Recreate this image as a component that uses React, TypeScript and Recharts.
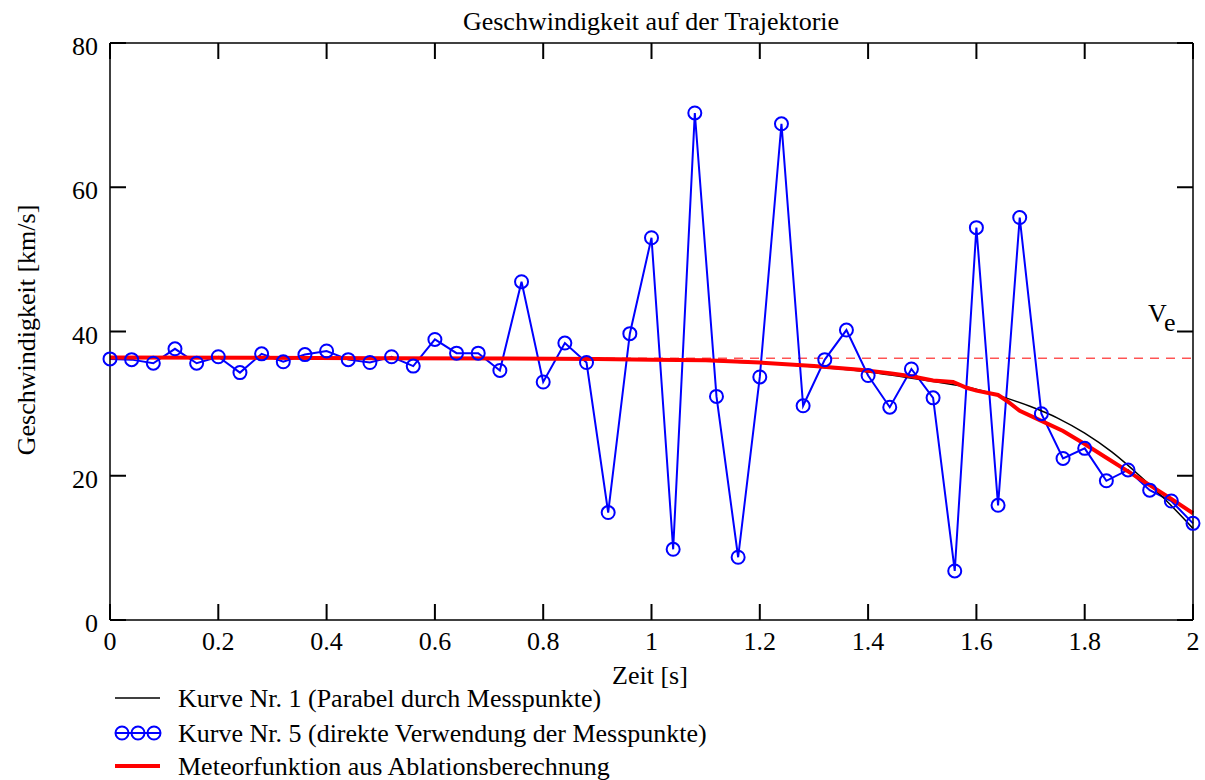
import { ComposedChart, Line, XAxis, YAxis, ReferenceLine } from 'recharts';

// Messzeitpunkte [s]
const messZeit = [
  0, 0.04, 0.08, 0.12, 0.16, 0.2, 0.24, 0.28, 0.32, 0.36,
  0.4, 0.44, 0.48, 0.52, 0.56, 0.6, 0.64, 0.68, 0.72, 0.76,
  0.8, 0.84, 0.88, 0.92, 0.96, 1.0, 1.04, 1.08, 1.12, 1.16,
  1.2, 1.24, 1.28, 1.32, 1.36, 1.4, 1.44, 1.48, 1.52, 1.56,
  1.6, 1.64, 1.68, 1.72, 1.76, 1.8, 1.84, 1.88, 1.92, 1.96, 2.0,
];

// Kurve Nr. 5: direkte Verwendung der Messpunkte [km/s]
const messV = [
  36.2, 36.1, 35.6, 37.6, 35.6, 36.5, 34.3, 36.9, 35.8, 36.8,
  37.3, 36.1, 35.7, 36.5, 35.2, 38.9, 37.0, 37.0, 34.6, 46.9,
  33.0, 38.4, 35.7, 14.9, 39.7, 53.0, 9.8, 70.3, 31.0, 8.7,
  33.7, 68.8, 29.7, 36.1, 40.2, 33.9, 29.5, 34.8, 30.8, 6.8,
  54.4, 15.9, 55.8, 28.6, 22.4, 23.8, 19.3, 20.8, 18.0, 16.5, 13.4,
];

// Kurve Nr. 1: Parabel durch Messpunkte
const parabelZeit = [0, 0.2, 0.4, 0.6, 0.8, 1.0, 1.1, 1.2, 1.3, 1.4, 1.5, 1.6, 1.65, 1.7, 1.75, 1.8, 1.85, 1.9, 1.95, 2.0];
const parabelV = [36.3, 36.3, 36.3, 36.3, 36.2, 36.1, 35.9, 35.6, 35.1, 34.4, 33.3, 32.0, 30.9, 29.6, 28.0, 25.9, 23.3, 20.1, 16.6, 12.7];

// Meteorfunktion aus Ablationsberechnung
const meteorZeit = [0, 0.5, 0.9, 1.0, 1.1, 1.2, 1.3, 1.385, 1.44, 1.48, 1.52, 1.557, 1.582, 1.6, 1.64, 1.656, 1.68, 1.72, 1.76, 1.8, 1.84, 1.88, 1.92, 1.96, 2.0];
const meteorV = [36.4, 36.3, 36.2, 36.1, 36.0, 35.7, 35.2, 34.7, 34.2, 33.8, 33.2, 33.0, 32.2, 31.8, 31.2, 30.4, 29.0, 27.6, 26.2, 24.4, 22.5, 20.6, 18.7, 16.8, 14.8];

// Eintrittsgeschwindigkeit v_e
const vE = 36.3;

const xTicks = [0, 0.2, 0.4, 0.6, 0.8, 1, 1.2, 1.4, 1.6, 1.8, 2];
const yTicks = [0, 20, 40, 60, 80];

const messData = messZeit.map((t, i) => ({ t, v: messV[i] }));
const parabelData = parabelZeit.map((t, i) => ({ t, v: parabelV[i] }));
const meteorData = meteorZeit.map((t, i) => ({ t, v: meteorV[i] }));

const W = 1205;
const H = 780;
const LEFT = 110;
const RIGHT = 1193;
const TOP = 43;
const BOTTOM = 620;
const FS = 26;
const TICK = 16;
const FONT = '"Liberation Serif", "Times New Roman", serif';
const AXIS = { stroke: '#000', strokeWidth: 1.5 };

// plot-frame coordinates for the inward tick marks
const sx = (t: number) => LEFT + (t / 2) * (RIGHT - LEFT);
const sy = (v: number) => BOTTOM - (v / 80) * (BOTTOM - TOP);

const fmt = (v: number) => String(Math.round(v * 10) / 10);

const BottomLabel = (p: any) => (
  <text x={p.x} y={BOTTOM + 30} textAnchor="middle" fontFamily={FONT} fontSize={FS} fill="#000">
    {fmt(p.payload.value)}
  </text>
);

const LeftLabel = (p: any) => (
  <text x={98} y={p.y + 12} textAnchor="end" fontFamily={FONT} fontSize={FS} fill="#000">
    {p.payload.value}
  </text>
);

const NoLabel = () => <g />;

export default function App() {
  return (
    <div style={{ position: 'absolute', left: 0, top: 0, width: W, height: H, background: '#fff' }}>
      <ComposedChart width={W} height={H} margin={{ top: TOP - 1, right: W - RIGHT - 1, bottom: 0, left: 0 }}>
        <XAxis
          xAxisId="b"
          dataKey="t"
          type="number"
          domain={[0, 2]}
          ticks={xTicks}
          height={H - BOTTOM}
          axisLine={AXIS}
          tickLine={false}
          tick={BottomLabel}
        />
        <XAxis
          xAxisId="t"
          orientation="top"
          type="number"
          domain={[0, 2]}
          ticks={xTicks}
          height={1}
          axisLine={AXIS}
          tickLine={false}
          tick={NoLabel}
        />
        <YAxis
          yAxisId="l"
          type="number"
          domain={[0, 80]}
          ticks={yTicks}
          width={LEFT}
          axisLine={AXIS}
          tickLine={false}
          tick={LeftLabel}
        />
        <YAxis
          yAxisId="r"
          orientation="right"
          type="number"
          domain={[0, 80]}
          ticks={yTicks}
          width={1}
          axisLine={AXIS}
          tickLine={false}
          tick={NoLabel}
        />
        <ReferenceLine
          xAxisId="b"
          yAxisId="l"
          y={vE}
          stroke="#ff0000"
          strokeWidth={1}
          strokeDasharray="9 7"
        />
        <Line
          xAxisId="b"
          yAxisId="l"
          data={messData}
          dataKey="v"
          type="linear"
          stroke="#0000ff"
          strokeWidth={2}
          dot={{ r: 6.5, stroke: '#0000ff', strokeWidth: 2, fill: 'none' }}
          isAnimationActive={false}
        />
        <Line
          xAxisId="b"
          yAxisId="l"
          data={parabelData}
          dataKey="v"
          type="monotone"
          stroke="#000"
          strokeWidth={1.5}
          dot={false}
          isAnimationActive={false}
        />
        <Line
          xAxisId="b"
          yAxisId="l"
          data={meteorData}
          dataKey="v"
          type="linear"
          stroke="#ff0000"
          strokeWidth={4}
          dot={false}
          isAnimationActive={false}
        />
      </ComposedChart>

      <svg
        width={W}
        height={H}
        style={{ position: 'absolute', left: 0, top: 0, pointerEvents: 'none' }}
        fontFamily={FONT}
        fill="#000"
      >
        {/* inward ticks on all four sides of the frame */}
        <g stroke="#000" strokeWidth={2}>
          {xTicks.map((t) => (
            <g key={`x${t}`}>
              <line x1={sx(t)} x2={sx(t)} y1={BOTTOM} y2={BOTTOM - TICK} />
              <line x1={sx(t)} x2={sx(t)} y1={TOP} y2={TOP + TICK} />
            </g>
          ))}
          {yTicks.map((v) => (
            <g key={`y${v}`}>
              <line x1={LEFT} x2={LEFT + TICK} y1={sy(v)} y2={sy(v)} />
              <line x1={RIGHT} x2={RIGHT - TICK} y1={sy(v)} y2={sy(v)} />
            </g>
          ))}
        </g>

        <text x={651} y={30} textAnchor="middle" fontSize={FS}>Geschwindigkeit auf der Trajektorie</text>
        <text x={650} y={684} textAnchor="middle" fontSize={FS}>Zeit [s]</text>
        <text x={35} y={330} textAnchor="middle" fontSize={FS} transform="rotate(-90 35 330)">
          Geschwindigkeit [km/s]
        </text>
        <text x={1148} y={322} fontSize={FS}>
          V<tspan fontSize={FS} dy={9}>e</tspan>
        </text>

        <line x1={115} x2={160} y1={698} y2={698} stroke="#000" strokeWidth={1.5} />
        <text x={178} y={707} fontSize={FS}>Kurve Nr. 1 (Parabel durch Messpunkte)</text>

        <line x1={115} x2={160} y1={733} y2={733} stroke="#0000ff" strokeWidth={2} />
        {[122, 138, 154].map((cx) => (
          <circle key={cx} cx={cx} cy={733} r={6.5} stroke="#0000ff" strokeWidth={2} fill="none" />
        ))}
        <text x={178} y={742} fontSize={FS}>Kurve Nr. 5 (direkte Verwendung der Messpunkte)</text>

        <line x1={115} x2={160} y1={766} y2={766} stroke="#ff0000" strokeWidth={4} />
        <text x={178} y={775} fontSize={FS}>Meteorfunktion aus Ablationsberechnung</text>
      </svg>
    </div>
  );
}
